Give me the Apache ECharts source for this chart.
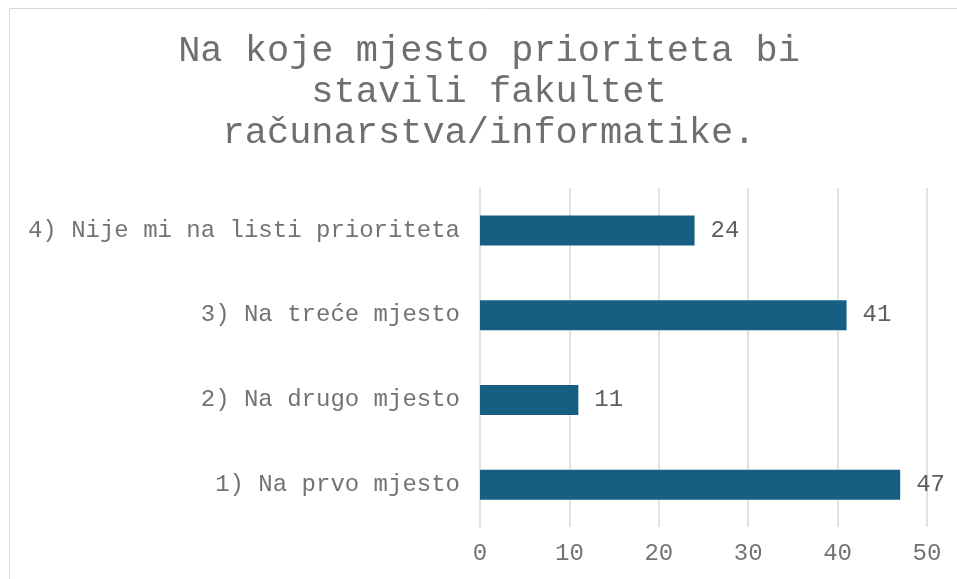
<!DOCTYPE html>
<html>
<head>
<meta charset="utf-8">
<script src="https://cdn.jsdelivr.net/npm/echarts@6/dist/echarts.min.js"></script>
<style>
  html, body { margin: 0; padding: 0; background: #fff; }
  #main { width: 957px; height: 579px; }
</style>
</head>
<body>
<div id="main"></div>
<script>
// podaci
var categories = ['1) Na prvo mjesto', '2) Na drugo mjesto', '3) Na treće mjesto', '4) Nije mi na listi prioriteta'];
var values = [47, 11, 41, 24];
var titleText = 'Na koje mjesto prioriteta bi\nstavili fakultet\nračunarstva/informatike.';

var font = '"Liberation Mono", "Courier New", monospace';
var chart = echarts.init(document.getElementById('main'));

chart.setOption({
  animation: false,
  backgroundColor: '#ffffff',
  title: {
    text: titleText,
    left: 489,
    textAlign: 'center',
    top: 31,
    padding: 0,
    textStyle: {
      fontFamily: font,
      fontWeight: 'normal',
      fontSize: 37,
      lineHeight: 41,
      color: '#6f6f6f'
    }
  },
  graphic: [{
    type: 'rect',
    shape: { x: 9.5, y: 8.5, width: 1200, height: 1200 },
    style: { fill: 'none', stroke: '#d9d9d9', lineWidth: 1 },
    silent: true
  }],
  grid: {
    left: 480,
    right: 30,
    top: 188,
    bottom: 52
  },
  xAxis: {
    type: 'value',
    min: 0,
    max: 50,
    interval: 10,
    axisLine: { show: false },
    axisTick: { show: false },
    splitLine: { lineStyle: { color: '#d9d9d9', width: 1.5 } },
    axisLabel: {
      margin: 15,
      fontFamily: font,
      fontSize: 24,
      color: '#737373'
    }
  },
  yAxis: {
    type: 'category',
    data: categories,
    axisLine: { show: false },
    axisTick: { show: false },
    axisLabel: {
      margin: 20,
      fontFamily: font,
      fontSize: 24,
      color: '#737373'
    }
  },
  series: [{
    type: 'bar',
    data: values,
    barWidth: 30,
    itemStyle: { color: '#156082' },
    label: {
      show: true,
      position: 'right',
      distance: 16,
      fontFamily: font,
      fontSize: 24,
      color: '#5f5f5f'
    }
  }]
});
</script>
</body>
</html>
